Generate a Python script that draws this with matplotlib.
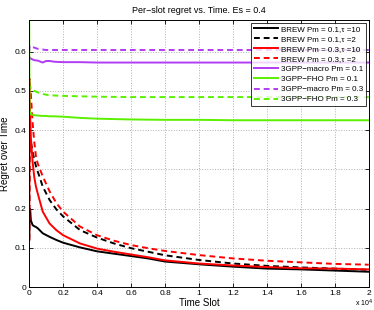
import matplotlib
matplotlib.use('Agg')
import matplotlib.pyplot as plt
import numpy as np

plt.rcParams['font.family'] = ['Liberation Sans', 'DejaVu Sans']
plt.rcParams['axes.unicode_minus'] = True

t_brew = [1, 30, 60, 100, 200, 300, 400, 500, 800, 1200, 1600, 2000, 3000, 4000, 5000,
          6000, 7000, 8000, 10000, 12000, 14000, 16000, 18000, 20000]

brew_01_10 = [0.12, 0.20, 0.197, 0.17, 0.158, 0.155, 0.153, 0.150, 0.137, 0.128, 0.120, 0.113, 0.101, 0.091, 0.085,
              0.079, 0.073, 0.065, 0.058, 0.052, 0.047, 0.045, 0.042, 0.039]
brew_01_2 = [0.12, 0.38, 0.375, 0.37, 0.345, 0.325, 0.308, 0.295, 0.256, 0.222, 0.198, 0.180, 0.145, 0.126, 0.111,
             0.099, 0.090, 0.081, 0.069, 0.060, 0.054, 0.050, 0.047, 0.044]
brew_03_10 = [0.12, 0.47, 0.43, 0.38, 0.32, 0.28, 0.256, 0.239, 0.192, 0.162, 0.145, 0.132, 0.111, 0.098, 0.090,
              0.083, 0.076, 0.068, 0.060, 0.055, 0.051, 0.048, 0.047, 0.045]
brew_03_2 = [0.12, 0.53, 0.51, 0.49, 0.42, 0.37, 0.333, 0.315, 0.282, 0.244, 0.214, 0.192, 0.154, 0.132, 0.118,
             0.107, 0.099, 0.092, 0.0815, 0.073, 0.067, 0.063, 0.059, 0.057]

t_3gpp = [1, 20, 100, 300, 500, 800, 1000, 1200, 1500, 2000, 3000, 4000, 6000, 8000,
          10000, 12000, 14000, 16000, 18000, 20000]
macro_01 = [0.58, 0.585, 0.582, 0.578, 0.577, 0.572, 0.576, 0.576, 0.574, 0.573, 0.573, 0.572, 0.572, 0.572,
            0.572, 0.572, 0.572, 0.572, 0.572, 0.572]
fho_01 = [0.70, 0.45, 0.44, 0.438, 0.437, 0.436, 0.436, 0.435, 0.435, 0.434, 0.431, 0.429, 0.427, 0.426,
          0.426, 0.425, 0.425, 0.425, 0.425, 0.425]
macro_03 = [0.60, 0.615, 0.614, 0.61, 0.607, 0.605, 0.604, 0.604, 0.604, 0.604, 0.604, 0.604, 0.604, 0.604,
            0.604, 0.604, 0.604, 0.604, 0.604, 0.604]
fho_03 = [0.52, 0.51, 0.505, 0.50, 0.496, 0.492, 0.49, 0.489, 0.488, 0.487, 0.486, 0.485, 0.484, 0.484,
          0.484, 0.484, 0.484, 0.484, 0.484, 0.484]

labels = ['BREW Pm = 0.1,\u03c4 =10', 'BREW Pm = 0.1,\u03c4 =2',
          'BREW Pm = 0.3,\u03c4 =10', 'BREW Pm = 0.3,\u03c4 =2',
          '3GPP\u2212macro Pm = 0.1', '3GPP\u2212FHO Pm = 0.1',
          '3GPP\u2212macro Pm = 0.3', '3GPP\u2212FHO Pm = 0.3']

purple = '#b23cf2'
green = '#5cf000'
lw = 1.4
dash = (3, 2)

fig = plt.figure(figsize=(3.74, 3.10), dpi=100)
ax = fig.add_axes([0.078, 0.074, 0.908, 0.861])

ax.plot(t_brew, brew_01_10, color='black', lw=lw, label=labels[0])
ax.plot(t_brew, brew_01_2, color='black', lw=lw, dashes=dash, label=labels[1])
ax.plot(t_brew, brew_03_10, color='red', lw=lw, label=labels[2])
ax.plot(t_brew, brew_03_2, color='red', lw=lw, dashes=dash, label=labels[3])
ax.plot(t_3gpp, macro_01, color=purple, lw=lw, label=labels[4])
ax.plot(t_3gpp, fho_01, color=green, lw=lw, label=labels[5])
ax.plot(t_3gpp, macro_03, color=purple, lw=lw, dashes=dash, label=labels[6])
ax.plot(t_3gpp, fho_03, color=green, lw=lw, dashes=dash, label=labels[7])

ax.set_xlim(0, 20000)
ax.set_ylim(0, 0.68)
ax.set_xticks(np.arange(0, 20001, 2000))
ax.set_xticklabels(['0', '0.2', '0.4', '0.6', '0.8', '1', '1.2', '1.4', '1.6', '1.8', '2'])
ax.set_yticks([0, 0.1, 0.2, 0.3, 0.4, 0.5, 0.6])
ax.set_yticklabels(['0', '0.1', '0.2', '0.3', '0.4', '0.5', '0.6'])
ax.tick_params(labelsize=6, direction='in', length=3, width=0.6, top=True, right=True, pad=2)
ax.grid(True, linestyle=':', color='#b0b0b0', linewidth=0.7)
for s in ax.spines.values():
    s.set_linewidth(0.7)

ax.set_title('Per\u2212slot regret vs. Time. Es = 0.4', fontsize=6.5, pad=5)
ax.set_xlabel('Time Slot', fontsize=7, labelpad=1)
ax.set_ylabel('Regret over Time', fontsize=7, labelpad=3)
fig.text(0.997, 0.002, 'x 10$^4$', fontsize=5, ha='right', va='bottom')

leg = ax.legend(loc='upper right', fontsize=5.8, frameon=True, fancybox=False,
                edgecolor='black', handlelength=3.0, borderaxespad=0.3,
                labelspacing=0.3, borderpad=0.35, handletextpad=0.4)
leg.get_frame().set_linewidth(0.7)

fig.savefig('out.png', dpi=100)
